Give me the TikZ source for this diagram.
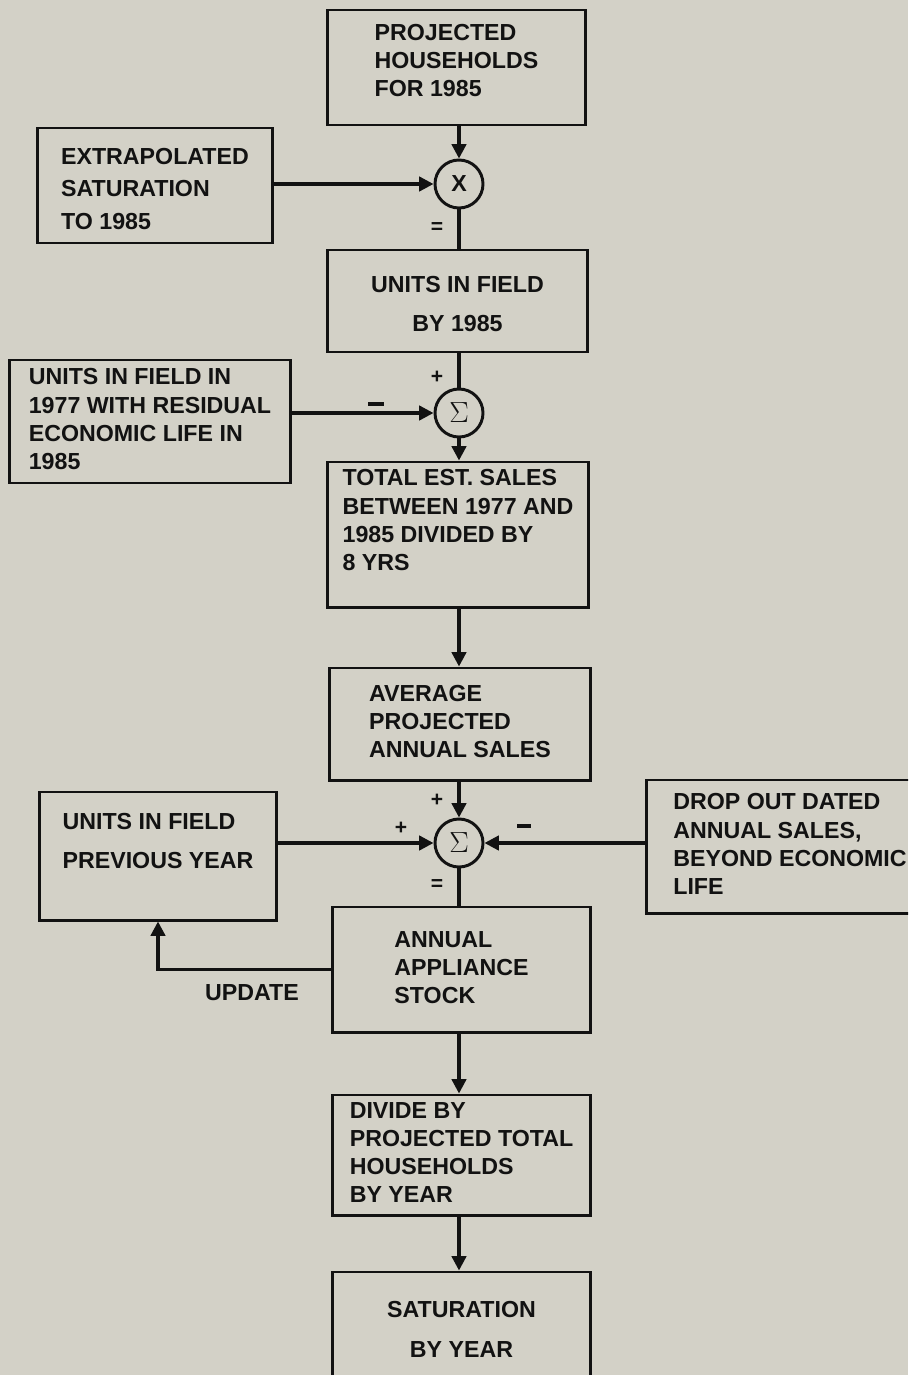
\documentclass[tikz,border=0pt]{standalone}
\usepackage{fontspec}
\setmainfont{Liberation Sans}
\usepackage{xcolor}
\usetikzlibrary{arrows.meta,shapes,shapes.geometric}
\definecolor{paper}{RGB}{211,209,199}
\definecolor{ink}{RGB}{18,18,18}

\begin{document}
\begin{tikzpicture}[x=0.025cm,y=-0.025cm]
\tikzstyle{every node}=[font=\fontsize{16.5}{20}\selectfont\bfseries, text=ink];
\tikzstyle{box}=[draw=ink, line width=2.1pt, rectangle, inner sep=0pt];
\tikzstyle{junction}=[draw=ink, line width=2.1pt, circle, minimum size=1.2cm, inner sep=0pt];
\tikzstyle{flow}=[draw=ink, line width=2.3pt, -{Triangle[length=0.36cm,width=0.36cm]}];
\tikzstyle{wire}=[draw=ink, line width=2.3pt];
\tikzstyle{sign}=[font=\fontsize{15}{15}\selectfont\bfseries, inner sep=0pt];

\useasboundingbox (0,0) rectangle (908,1375);
\fill[paper] (0,0) rectangle (908,1375);
\clip (0,0) rectangle (908,1375);

\node[box, minimum width=6.425cm, minimum height=2.875cm] (hh) at (456.5,67.5) {
\begin{tabular}{l}
PROJECTED \\
HOUSEHOLDS \\
FOR 1985 \\[7pt]
\end{tabular}
};

\node[box, minimum width=5.85cm, minimum height=2.875cm] (extrap) at (155,185.5) {
\begin{tabular}{l}
\\[-12pt]
EXTRAPOLATED \\[3pt]
SATURATION \\[3pt]
TO 1985
\end{tabular}
};

\node[box, minimum width=6.475cm, minimum height=2.55cm] (units) at (457.5,301) {
\begin{tabular}{c}
\\[-12pt]
UNITS IN FIELD \\[8pt]
BY 1985
\end{tabular}
};

\node[box, minimum width=7cm, minimum height=3.075cm] (resid) at (150,421.5) {
\begin{tabular}{l}
UNITS IN FIELD IN \\
1977 WITH RESIDUAL \\
ECONOMIC LIFE IN \\
1985
\end{tabular}
};

\node[box, minimum width=6.5cm, minimum height=3.625cm] (total) at (458,534.5) {
\begin{tabular}{l}
TOTAL EST. SALES \\
BETWEEN 1977 AND \\
1985 DIVIDED BY \\
8 YRS \\[17pt]
\end{tabular}
};

\node[box, minimum width=6.5cm, minimum height=2.8cm] (avg) at (460,724) {
\begin{tabular}{l}
AVERAGE \\
PROJECTED \\
ANNUAL SALES
\end{tabular}
};

\node[box, minimum width=5.9cm, minimum height=3.2cm] (prev) at (158,856) {
\begin{tabular}{l}
UNITS IN FIELD \\[8pt]
PREVIOUS YEAR \\[18pt]
\end{tabular}
};

\node[box, minimum width=7.15cm, minimum height=3.325cm] (drop) at (790,846.5) {
\begin{tabular}{l}
DROP OUT DATED \\
ANNUAL SALES, \\
BEYOND ECONOMIC \\
LIFE
\end{tabular}
};

\node[box, minimum width=6.425cm, minimum height=3.125cm] (stock) at (461.5,969.5) {
\begin{tabular}{l}
ANNUAL \\
APPLIANCE \\
STOCK
\end{tabular}
};

\node[box, minimum width=6.425cm, minimum height=3cm] (divide) at (461.5,1155) {
\begin{tabular}{l}
DIVIDE BY \\
PROJECTED TOTAL \\
HOUSEHOLDS \\
BY YEAR
\end{tabular}
};

\node[box, minimum width=6.425cm, minimum height=3.2cm] (sat) at (461.5,1336) {
\begin{tabular}{c}
SATURATION \\[8pt]
BY YEAR \\[6pt]
\end{tabular}
};

\node[junction] (mult) at (459,184) {X};
\node[junction] (sum1) at (459,413) {\fontsize{21}{21}\selectfont$\Sigma$};
\node[junction] (sum2) at (459,843) {\fontsize{21}{21}\selectfont$\Sigma$};

% signs next to the junctions
\node[sign] (eq1) at (437,228) {=};
\node[sign] (p1) at (437,377) {+};
\node[sign] (m1) at (376,404) {\rule{0.4cm}{2.2pt}};
\node[sign] (p2) at (437,800) {+};
\node[sign] (p3) at (401,828) {+};
\node[sign] (m2) at (524,826) {\rule{0.33cm}{2.2pt}};
\node[sign] (eq2) at (437,885) {=};
\node (upd) at (252,993) {UPDATE};

\path[flow] (hh.south -| mult) -- (mult);
\path[flow] (extrap.east |- mult) -- (mult);
\path[wire] (mult) -- (mult |- units.north);
\path[wire] (units.south -| sum1) -- (sum1);
\path[flow] (resid.east |- sum1) -- (sum1);
\path[flow] (sum1) -- (sum1 |- total.north);
\path[flow] (total.south -| sum1) -- (sum1 |- avg.north);
\path[flow] (avg.south -| sum2) -- (sum2);
\path[flow] (prev.east |- sum2) -- (sum2);
\path[flow] (drop.west |- sum2) -- (sum2);
\path[wire] (sum2) -- (sum2 |- stock.north);
\path[flow] (stock.west) -| (prev.south);
\path[flow] (stock.south -| sum2) -- (sum2 |- divide.north);
\path[flow] (divide.south -| sum2) -- (sum2 |- sat.north);
\end{tikzpicture}
\end{document}
